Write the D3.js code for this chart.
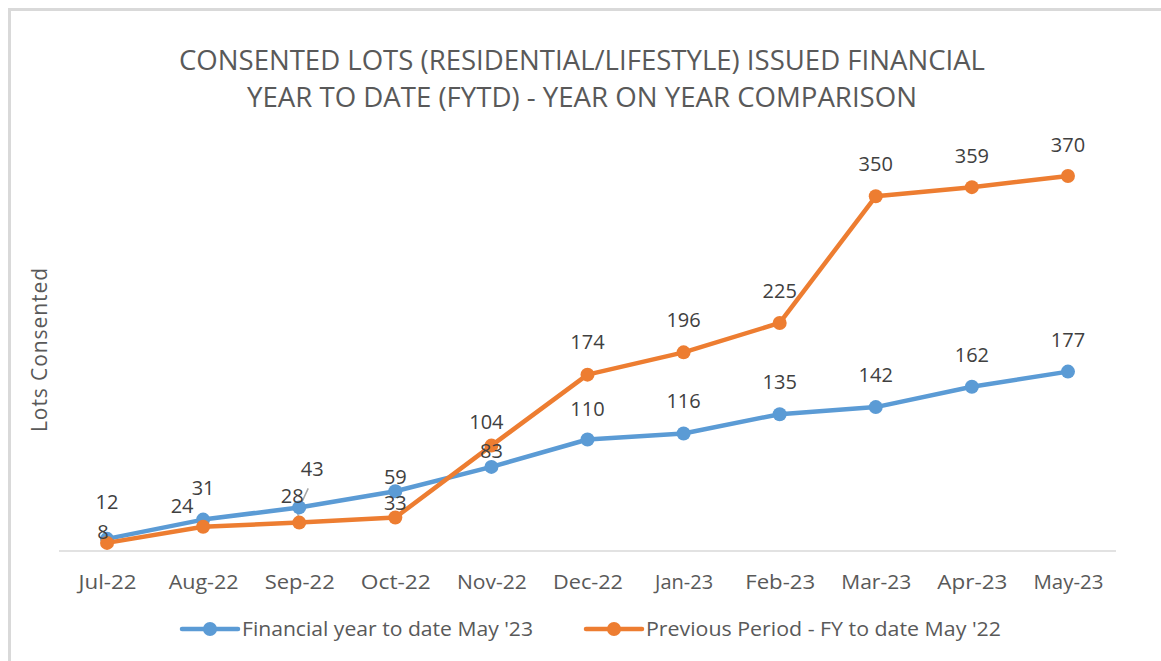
<!DOCTYPE html>
<html>
<head>
<meta charset="utf-8">
<script src="https://cdn.jsdelivr.net/npm/d3@7"></script>
<style>
  body { margin: 0; background: #fff; }
  svg { display: block; }
</style>
</head>
<body>
<svg width="1161" height="661"></svg>
<script>
// data
const months = ["Jul-22", "Aug-22", "Sep-22", "Oct-22", "Nov-22", "Dec-22",
  "Jan-23", "Feb-23", "Mar-23", "Apr-23", "May-23"];
const fytd23 = [12, 31, 43, 59, 83, 110, 116, 135, 142, 162, 177];
const fytd22 = [8, 24, 28, 33, 104, 174, 196, 225, 350, 359, 370];
const seriesNames = ["Financial year to date May '23", "Previous Period - FY to date May '22"];
const titleLines = ["CONSENTED LOTS (RESIDENTIAL/LIFESTYLE) ISSUED FINANCIAL",
  "YEAR TO DATE (FYTD) - YEAR ON YEAR COMPARISON"];

// label nudges (dx, dy from the point), as placed in the original
const blueLabelPos = [[0, -37], [0, -32], [13, -38], [0, -14], [0, -16], [0, -31],
  [0, -32], [0, -32], [0, -32], [0, -32], [0, -32]];
const orangeLabelPos = [[-4, -11], [-21, -21], [-7, -27], [0, -15], [-5, -24], [0, -33],
  [0, -32], [0, -32], [0, -32], [0, -31], [0, -31]];

const svg = d3.select("svg");
const grey = "#595959";
const blue = "#5B9BD5", orange = "#ED7D31";
const font = "Open Sans, sans-serif";

// chart border (only top/left visible)
svg.append("rect")
  .attr("x", 9.5).attr("y", 9.5)
  .attr("width", 1170).attr("height", 670)
  .attr("fill", "none")
  .attr("stroke", "#d9d9d9")
  .attr("stroke-width", 3);

const x = d3.scalePoint().domain(months).range([59, 1116]).padding(0.5);
const y = d3.scaleLinear().domain([0, 400]).range([551, 145.6]);

// title
svg.append("g").selectAll("text")
  .data(titleLines).enter()
  .append("text")
  .attr("x", 582)
  .attr("y", (d, i) => 70 + i * 37)
  .attr("text-anchor", "middle")
  .attr("font-family", font)
  .attr("font-size", 27)
  .attr("textLength", (d, i) => i == 0 ? 806 : 670)
  .attr("lengthAdjust", "spacingAndGlyphs")
  .attr("fill", grey)
  .text(d => d);

// x axis
const xAxis = svg.append("g")
  .attr("transform", "translate(0,551)")
  .call(d3.axisBottom(x).tickSize(0).tickPadding(24));
xAxis.select(".domain").remove();
xAxis.selectAll("text")
  .attr("font-family", font)
  .attr("font-size", 20)
  .attr("textLength", d => d.startsWith("J") ? 58 : 70)
  .attr("lengthAdjust", "spacingAndGlyphs")
  .attr("fill", grey);
svg.append("line")
  .attr("x1", 59).attr("x2", 1116)
  .attr("y1", 551).attr("y2", 551)
  .attr("stroke", "#d9d9d9")
  .attr("stroke-width", 1.5);

// y axis title
svg.append("text")
  .attr("transform", "translate(47,350) rotate(-90)")
  .attr("text-anchor", "middle")
  .attr("font-family", font)
  .attr("font-size", 21)
  .attr("textLength", 164)
  .attr("fill", grey)
  .text("Lots Consented");

const line = d3.line()
  .x((d, i) => x(months[i]))
  .y(d => y(d));

const series = [
  { values: fytd23, color: blue, labels: blueLabelPos },
  { values: fytd22, color: orange, labels: orangeLabelPos }
];

// leader lines for the two moved labels at Sep-22
const sx = x(months[2]);
svg.append("g")
  .attr("stroke", "#a6a6a6")
  .attr("stroke-width", 1.5)
  .selectAll("line")
  .data([
    [sx + 9, y(fytd23[2]) - 19, sx + 2, y(fytd23[2]) - 4],
    [sx - 2, y(fytd22[2]) - 11, sx, y(fytd22[2]) - 3]
  ])
  .enter().append("line")
  .attr("x1", d => d[0]).attr("y1", d => d[1])
  .attr("x2", d => d[2]).attr("y2", d => d[3]);

series.forEach(s => {
  svg.append("path")
    .datum(s.values)
    .attr("d", line)
    .attr("fill", "none")
    .attr("stroke", s.color)
    .attr("stroke-width", 4.5)
    .attr("stroke-linejoin", "round");
  svg.append("g").selectAll("circle")
    .data(s.values).enter()
    .append("circle")
    .attr("cx", (d, i) => x(months[i]))
    .attr("cy", d => y(d))
    .attr("r", 7)
    .attr("fill", s.color);
});

series.forEach(s => {
  svg.append("g").selectAll("text")
    .data(s.values).enter()
    .append("text")
    .attr("x", (d, i) => x(months[i]) + s.labels[i][0])
    .attr("y", (d, i) => y(d) + s.labels[i][1])
    .attr("dy", "0.35em")
    .attr("text-anchor", "middle")
    .attr("font-family", font)
    .attr("font-size", 20)
    .attr("fill", "#404040")
    .text(d => d);
});

// legend
const legendX = [182, 586];
const legendLen = [291, 355];
const legend = svg.append("g").selectAll("g")
  .data(series).enter()
  .append("g")
  .attr("transform", (d, i) => `translate(${legendX[i]},629)`);
legend.append("line")
  .attr("x1", 0).attr("x2", 56)
  .attr("stroke", d => d.color)
  .attr("stroke-width", 4.5)
  .attr("stroke-linecap", "round");
legend.append("circle")
  .attr("cx", 28).attr("r", 7)
  .attr("fill", d => d.color);
legend.append("text")
  .attr("x", 60)
  .attr("dy", "0.35em")
  .attr("font-family", font)
  .attr("font-size", 20)
  .attr("textLength", (d, i) => legendLen[i])
  .attr("lengthAdjust", "spacingAndGlyphs")
  .attr("fill", grey)
  .text((d, i) => seriesNames[i]);
</script>
</body>
</html>
